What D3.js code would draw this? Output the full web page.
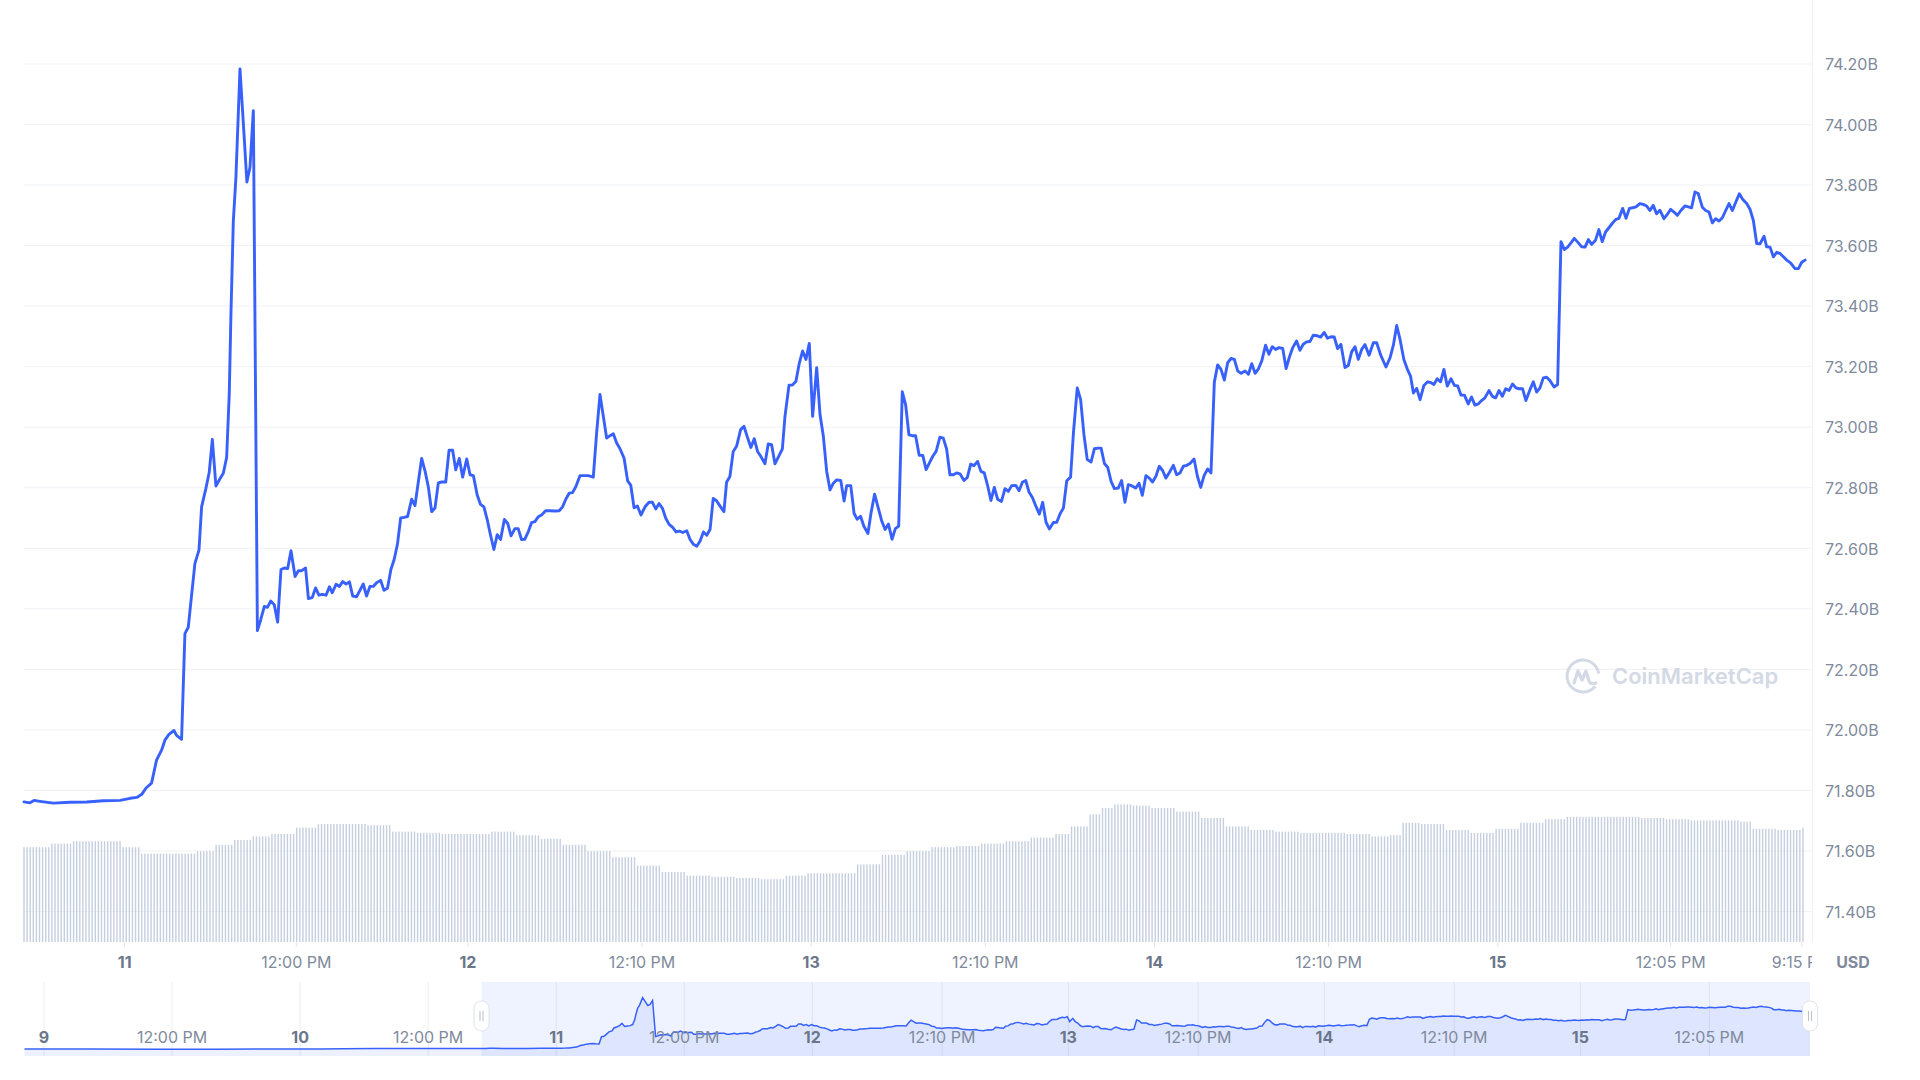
<!DOCTYPE html>
<html><head><meta charset="utf-8">
<script src="https://cdn.jsdelivr.net/npm/d3@7"></script>
<style>
html,body{margin:0;padding:0;background:#fff;}
svg{display:block;font-family:Inter,"Noto Sans",sans-serif;}
</style></head><body>
<svg id="chart" width="1920" height="1080"></svg>
<script>
// ---------- DATA ----------
// time origin of the visible range: 10 Jan 17:00 (times below are minutes after it)
const BASE = Date.UTC(2024, 0, 10, 17, 0);
const RANGE_END_MIN = 7500;

const priceMinutes = [
0,25,42,67,123,193,263,333,403,445,473,494,512,535,556,577,591,608,629,640,661,675,689,703,717,734,745,763,777,790,805,822,836,850,861,868,878,889,906,920,935,948,962,979,993,1008,1021,1035,1050,1064,1078,1092,1106,1120,1137,1151,1165,1181,1193,1209,1223,1237,1251,1267,1281,1293,1309,1323,1337,1351,1365,1379,1395,1409,1423,1437,1451,1465,1479,1496,1510,1525,1539,1553,1567,1580,1594,1609,1626,1640,1654,1668,1682,1696,1710,1724,1738,1752,1769,1783,1798,1811,1826,1840,
1857,1871,1885,1901,1915,1929,1943,1957,1971,1985,1999,2015,2029,2043,2059,2073,2087,2101,2115,2129,2143,2157,2171,2188,2206,2227,2245,2259,2273,2287,2301,2315,2332,2349,2367,2388,2402,2416,2430,2444,2458,2472,2486,2500,2517,2532,2545,2559,2573,2588,2605,2622,2636,2650,2664,2678,2692,2706,2721,2735,2749,2763,2780,2794,2808,2822,2836,2850,2864,2878,2891,2905,2919,2936,2947,2961,2975,2989,3006,3020,3034,3049,3063,3077,3091,3108,3122,3136,3150,3164,3181,3192,3209,3223,3238,3252,3266,3280,3294,3308,3325,3339,3353,3367,3381,3395,3409,3426,3440,3451,3468,3482,3495,3509,3523,3540,3553,3568,3582,3598,3612,3626,3641,3655,3669,3684,3698,3712,3726,3740,
3755,3770,3784,3798,3812,3826,3842,3856,3870,3884,3898,3912,3926,3943,3957,3971,3985,4000,4014,4028,4042,4056,4070,4084,4100,4115,4129,4143,4160,4174,4188,4202,4216,4230,4244,4259,4273,4287,4301,4318,4332,4346,4360,4374,4390,4402,4418,4432,4446,4460,4476,4490,4504,4518,4532,4546,4560,4574,4590,4604,4618,4632,4646,4663,4677,4691,4706,4720,4734,4748,4762,4776,4790,4807,4821,4835,4849,4863,4877,4891,4908,4922,4936,4950,4965,4979,4993,5007,5021,5035,5049,5063,5077,5091,5105,5122,5136,5150,5164,5178,5192,5208,5222,5236,5250,5264,5280,5294,5308,5322,5338,5352,5366,5380,5394,5408,5425,5439,5454,5468,5482,5496,5510,5524,5541,5555,5569,5583,5597,5611,
5625,5642,5660,5674,5691,5713,5730,5744,5758,5772,5788,5802,5816,5828,5842,5856,5872,5888,5902,5914,5928,5942,5956,5970,5986,6000,6014,6028,6042,6058,6072,6086,6100,6114,6128,6145,6159,6173,6187,6201,6215,6229,6244,6258,6272,6286,6300,6317,6331,6345,6359,6373,6387,6401,6418,6433,6447,6461,6475,6489,6503,6520,6534,6548,6562,6576,6592,6606,6620,6634,6648,6662,6676,6690,6706,6720,6734,6748,6762,6778,6792,6806,6820,6834,6848,6862,6879,6893,6907,6921,6935,6950,6967,6981,6995,7009,7023,7040,7054,7068,7082,7096,7110,7124,7138,7152,7166,7181,7195,7209,7226,7240,7254,7268,7282,7299,7310,7324,7338,7352,7366,7380,7394,7410,7429,7443,7457,7471];

const priceValues = [
71.762,71.759,71.767,71.764,71.758,71.761,71.762,71.766,71.767,71.774,71.777,71.787,71.808,71.824,71.90,71.933,71.966,71.985,71.998,71.982,71.969,72.318,72.339,72.445,72.55,72.594,72.737,72.798,72.851,72.96,72.806,72.83,72.848,72.90,73.111,73.371,73.68,73.826,74.184,74.005,73.81,73.859,74.046,72.328,72.364,72.408,72.405,72.426,72.413,72.356,72.53,72.535,72.533,72.592,72.507,72.526,72.526,72.535,72.434,72.437,72.469,72.445,72.448,72.445,72.473,72.453,72.481,72.474,72.49,72.482,72.489,72.442,72.44,72.461,72.482,72.442,72.474,72.474,72.486,72.494,72.461,72.469,72.53,72.564,72.616,72.70,72.702,72.705,72.762,72.741,72.819,72.897,72.856,72.803,72.721,72.733,72.816,72.819,72.819,72.924,72.924,72.859,72.897,72.835,
72.895,72.843,72.84,72.776,72.745,72.737,72.695,72.643,72.596,72.645,72.629,72.695,72.682,72.641,72.665,72.665,72.629,72.63,72.654,72.685,72.688,72.704,72.71,72.724,72.724,72.723,72.724,72.737,72.763,72.782,72.784,72.804,72.84,72.84,72.84,72.835,72.981,73.108,73.036,72.964,72.972,72.978,72.948,72.929,72.898,72.823,72.809,72.734,72.74,72.71,72.737,72.752,72.752,72.73,72.748,72.732,72.699,72.679,72.669,72.654,72.657,72.652,72.658,72.629,72.613,72.607,72.624,72.654,72.643,72.663,72.765,72.757,72.74,72.721,72.818,72.837,72.92,72.937,72.992,73.003,72.968,72.933,72.962,72.92,72.903,72.879,72.945,72.942,72.879,72.901,72.928,73.036,73.139,73.139,73.152,73.211,73.252,73.224,73.277,73.036,73.197,73.042,72.97,72.854,72.793,72.815,72.826,72.824,72.756,72.807,72.807,72.715,72.696,72.706,72.673,72.649,72.717,72.779,72.737,72.69,72.662,72.68,72.63,72.665,72.673,73.117,73.075,72.975,72.972,72.972,
72.907,72.907,72.86,72.882,72.904,72.92,72.967,72.964,72.928,72.843,72.843,72.849,72.846,72.824,72.834,72.878,72.873,72.887,72.854,72.849,72.807,72.758,72.801,72.762,72.755,72.797,72.788,72.807,72.808,72.79,72.818,72.824,72.785,72.768,72.74,72.713,72.752,72.686,72.664,72.685,72.686,72.714,72.733,72.823,72.835,72.981,73.13,73.092,72.976,72.893,72.885,72.929,72.931,72.931,72.88,72.867,72.821,72.797,72.799,72.824,72.752,72.81,72.807,72.799,72.815,72.775,72.84,72.832,72.819,72.838,72.871,72.857,72.832,72.854,72.874,72.843,72.849,72.871,72.874,72.88,72.895,72.838,72.801,72.84,72.862,72.849,73.149,73.206,73.191,73.156,73.213,73.227,73.224,73.186,73.178,73.186,73.175,73.21,73.178,73.193,73.219,73.271,73.241,73.266,73.257,73.263,73.26,73.194,73.232,73.263,73.285,73.254,73.274,73.282,73.283,73.304,73.302,73.298,73.313,73.294,73.299,73.298,73.26,73.274,73.197,73.204,73.249,73.266,73.224,73.257,
73.273,73.238,73.279,73.279,73.238,73.199,73.229,73.271,73.336,73.29,73.224,73.193,73.169,73.113,73.128,73.091,73.138,73.15,73.147,73.141,73.16,73.15,73.191,73.136,73.16,73.138,73.136,73.106,73.106,73.077,73.1,73.073,73.077,73.088,73.097,73.121,73.102,73.097,73.121,73.102,73.127,73.121,73.143,73.13,73.127,73.127,73.088,73.124,73.15,73.116,73.13,73.163,73.165,73.154,73.133,73.141,73.613,73.587,73.595,73.609,73.624,73.609,73.596,73.595,73.62,73.604,73.618,73.653,73.613,73.645,73.659,73.673,73.686,73.69,73.723,73.69,73.723,73.725,73.728,73.739,73.736,73.731,73.716,73.733,73.705,73.717,73.689,73.703,73.72,73.711,73.70,73.716,73.731,73.728,73.725,73.777,73.772,73.727,73.716,73.711,73.675,73.689,73.681,73.692,73.716,73.739,73.716,73.745,73.771,73.753,73.739,73.72,73.683,73.607,73.606,73.631,73.596,73.595,73.563,73.578,73.574,73.563,73.552,73.543,73.524,73.524,73.545,73.552];

// volume bars: runs of equal-height bars (start minute, volume in B USD)
const volumeRunStart = [0,105,208,413,490,721,798,875,952,1029,1132,1235,1440,1543,1646,1748,1954,2057,2159,2262,2365,2468,2570,2673,2776,2878,2981,3084,3187,3289,3495,3597,3700,3803,3906,4008,4111,4214,4317,4394,4471,4522,4573,4651,4727,4830,4933,5036,5138,5241,5344,5549,5652,5729,5780,5857,5960,6063,6166,6268,6371,6474,6782,6885,6987,7193,7244,7347,7450];
const volumeRunValue = [2.37,2.46,2.52,2.37,2.21,2.27,2.43,2.55,2.64,2.70,2.86,2.95,2.92,2.76,2.73,2.70,2.76,2.67,2.58,2.43,2.27,2.12,1.91,1.75,1.66,1.63,1.60,1.57,1.66,1.72,1.94,2.18,2.27,2.37,2.40,2.46,2.52,2.61,2.70,2.89,3.19,3.35,3.44,3.41,3.35,3.26,3.10,2.89,2.80,2.76,2.73,2.70,2.64,2.67,2.98,2.95,2.80,2.73,2.83,2.98,3.07,3.13,3.10,3.07,3.04,3.01,2.83,2.80,2.86];
const VOLUME_BAR_EVERY_MIN = 13;

// navigator: older history before the visible range (minutes before BASE)
const navEarlyMinutes = [-2570,-2220,-1800,-1500,-1200,-900,-780,-600,-300,-120];
const navEarlyValues  = [71.73,71.73,71.72,71.725,71.73,71.73,71.74,71.755,71.755,71.76];

const yTicks = [71.4,71.6,71.8,72.0,72.2,72.4,72.6,72.8,73.0,73.2,73.4,73.6,73.8,74.0,74.2];

const xTickTimes  = ["2024-01-11T00:00Z","2024-01-11T12:00Z","2024-01-12T00:00Z","2024-01-12T12:10Z","2024-01-13T00:00Z","2024-01-13T12:10Z","2024-01-14T00:00Z","2024-01-14T12:10Z","2024-01-15T00:00Z","2024-01-15T12:05Z","2024-01-15T21:15Z"];
const xTickLabels = ["11","12:00 PM","12","12:10 PM","13","12:10 PM","14","12:10 PM","15","12:05 PM","9:15 PM"];

const navTickTimes  = ["2024-01-09T00:00Z","2024-01-09T12:00Z","2024-01-10T00:00Z","2024-01-10T12:00Z","2024-01-11T00:00Z","2024-01-11T12:00Z","2024-01-12T00:00Z","2024-01-12T12:10Z","2024-01-13T00:00Z","2024-01-13T12:10Z","2024-01-14T00:00Z","2024-01-14T12:10Z","2024-01-15T00:00Z","2024-01-15T12:05Z"];
const navTickLabels = ["9","12:00 PM","10","12:00 PM","11","12:00 PM","12","12:10 PM","13","12:10 PM","14","12:10 PM","15","12:05 PM"];

// ---------- CHART ----------
const T = m => new Date(BASE + m * 60000);
const isDay = s => /^\d+$/.test(s);
const BLUE = "#3861fb", GRID = "#eff1f4", LABEL = "#808a9d", DAYLABEL = "#6b768a";

const svg = d3.select("#chart");
const PL = 24, PR = 1812, PB = 942;

const x = d3.scaleUtc().domain([T(0), T(RANGE_END_MIN)]).range([PL, PR]);
const y = d3.scaleLinear().domain([71.4, 74.2]).range([911.5, 64]);
const vy = d3.scaleLinear().domain([0, 3.5]).range([PB, PB - 140]);

const price = priceMinutes.map((m, i) => ({t: T(m), v: priceValues[i]}));

// gridlines
svg.append("g").selectAll("line").data(yTicks).join("line")
  .attr("x1", PL).attr("x2", PR).attr("y1", d => y(d)).attr("y2", d => y(d))
  .attr("stroke", GRID).attr("stroke-width", 1);
svg.append("line").attr("x1", PR + 0.5).attr("x2", PR + 0.5).attr("y1", 0).attr("y2", PB)
  .attr("stroke", GRID).attr("stroke-width", 1);

// volume bars
const bars = [];
for (let m = 0; m <= priceMinutes[priceMinutes.length - 1]; m += VOLUME_BAR_EVERY_MIN) {
  const k = d3.bisectRight(volumeRunStart, m) - 1;
  bars.push({t: T(m), v: volumeRunValue[Math.max(0, k)]});
}
svg.append("g").selectAll("rect").data(bars).join("rect")
  .attr("x", d => x(d.t) - 0.7).attr("width", 1.4)
  .attr("y", d => vy(d.v)).attr("height", d => PB - vy(d.v))
  .attr("fill", "#c5cfdf");

// watermark
const wm = svg.append("g").attr("transform", "translate(1583,676)");
wm.append("path")
  .attr("d", d3.arc()({innerRadius: 14.5, outerRadius: 17.5, startAngle: Math.PI * 0.72, endAngle: Math.PI * 2.45}))
  .attr("fill", "#d3d9e5");
wm.append("path")
  .attr("d", "M-9,7 L-5,-5 L-1,4 L3,-5 L6,5 Q8,9 13,7")
  .attr("fill", "none").attr("stroke", "#d3d9e5").attr("stroke-width", 3.2)
  .attr("stroke-linejoin", "round").attr("stroke-linecap", "round");
svg.append("text").attr("x", 1612).attr("y", 684).text("CoinMarketCap")
  .attr("font-size", 22).attr("font-weight", 600).attr("fill", "#d3d9e5");

// price line
svg.append("path").datum(price)
  .attr("d", d3.line().x(d => x(d.t)).y(d => y(d.v)))
  .attr("fill", "none").attr("stroke", BLUE).attr("stroke-width", 2.9)
  .attr("stroke-linejoin", "round").attr("stroke-linecap", "round");

// y axis
const yAx = svg.append("g").attr("transform", `translate(${PR},0)`)
  .call(d3.axisRight(y).tickValues(yTicks).tickSize(0).tickPadding(13).tickFormat(d => d.toFixed(2) + "B"));
yAx.select(".domain").remove();
yAx.selectAll("text").attr("fill", LABEL).attr("font-size", 16).attr("font-family", "Inter").attr("dy", "0.36em");

// x axis (labels clipped at the plot's right edge)
svg.append("clipPath").attr("id", "xclip").append("rect")
  .attr("x", 0).attr("y", -2).attr("width", PR).attr("height", 60);
const xAx = svg.append("g").attr("transform", `translate(0,${PB})`).attr("clip-path", "url(#xclip)")
  .call(d3.axisBottom(x).tickValues(xTickTimes.map(s => new Date(s))).tickSize(5).tickPadding(10)
    .tickFormat((d, i) => xTickLabels[i]));
xAx.select(".domain").remove();
xAx.selectAll(".tick line").attr("stroke", "#e3e6eb");
xAx.selectAll("text").attr("font-size", 16).attr("font-family", "Inter")
  .attr("fill", (d, i) => isDay(xTickLabels[i]) ? DAYLABEL : LABEL)
  .attr("font-weight", (d, i) => isDay(xTickLabels[i]) ? 700 : 400);

svg.append("text").attr("x", 1853).attr("y", 968).attr("text-anchor", "middle")
  .attr("font-size", 16).attr("font-weight", 700).attr("fill", LABEL).text("USD");

// ---------- NAVIGATOR ----------
const NT = 982, NB = 1056, NL = 24.5, NR = 1810;
const nx = d3.scaleUtc().domain([T(navEarlyMinutes[0]), T(priceMinutes[priceMinutes.length - 1])]).range([NL, NR]);
const ny = d3.scaleLinear().domain([71.4, 74.93]).range([NB, NT]);
const navData = navEarlyMinutes.map((m, i) => ({t: T(m), v: navEarlyValues[i]})).concat(price);
const navTicks = navTickTimes.map(s => new Date(s));

const nav = svg.append("g");
nav.append("g").selectAll("line").data(navTicks).join("line")
  .attr("x1", d => nx(d)).attr("x2", d => nx(d)).attr("y1", NT).attr("y2", NB)
  .attr("stroke", "#eceef2");
nav.append("path").datum(navData)
  .attr("d", d3.area().x(d => nx(d.t)).y0(NB).y1(d => ny(d.v)))
  .attr("fill", BLUE).attr("fill-opacity", 0.09);
nav.append("path").datum(navData)
  .attr("d", d3.line().x(d => nx(d.t)).y(d => ny(d.v)))
  .attr("fill", "none").attr("stroke", BLUE).attr("stroke-width", 1.5);
const selL = nx(T(0));
nav.append("rect").attr("x", selL).attr("y", NT).attr("width", NR - selL).attr("height", NB - NT)
  .attr("fill", BLUE).attr("fill-opacity", 0.08);
nav.append("g").selectAll("text").data(navTicks).join("text")
  .attr("x", d => nx(d)).attr("y", 1043).attr("text-anchor", "middle")
  .attr("font-size", 16)
  .attr("font-weight", (d, i) => isDay(navTickLabels[i]) ? 700 : 400)
  .attr("fill", (d, i) => isDay(navTickLabels[i]) ? DAYLABEL : LABEL)
  .text((d, i) => navTickLabels[i]);

// handles
[selL, NR].forEach(hx => {
  const h = nav.append("g").attr("transform", `translate(${hx},1016)`);
  h.append("rect").attr("x", -7.5).attr("y", -15).attr("width", 15).attr("height", 30).attr("rx", 7)
    .attr("fill", "#fff").attr("stroke", "#dfe3ea").attr("stroke-width", 1);
  [-1.5, 1.5].forEach(dx => h.append("line").attr("x1", dx).attr("x2", dx).attr("y1", -5).attr("y2", 5)
    .attr("stroke", "#b9c0cc").attr("stroke-width", 1));
});
</script>
</body></html>
